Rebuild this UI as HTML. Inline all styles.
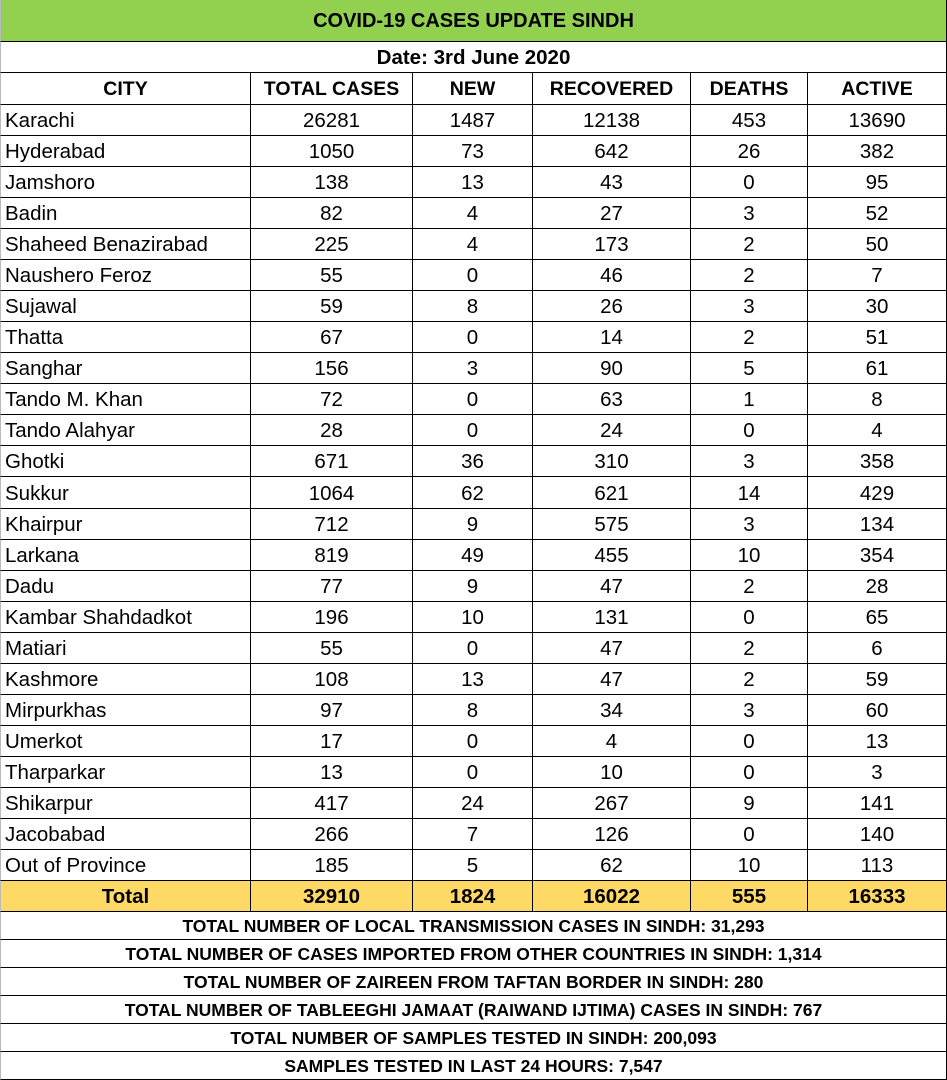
<!DOCTYPE html>
<html><head><meta charset="utf-8"><style>
body{margin:0;width:947px;height:1080px;background:#fff;position:relative;overflow:hidden;font-family:"Liberation Sans",Arial,sans-serif;color:#000}
.c{position:absolute;box-sizing:border-box;border-right:1px solid #000;border-bottom:1px solid #000;display:flex;align-items:center;justify-content:center;white-space:nowrap;font-size:20.5px;padding-top:2px}
.l{justify-content:flex-start;padding-left:4px}
.b{font-weight:bold}
</style></head><body>
<div id="t"></div>
<script>
const headers=["CITY","TOTAL CASES","NEW","RECOVERED","DEATHS","ACTIVE"];
const cities=["Karachi","Hyderabad","Jamshoro","Badin","Shaheed Benazirabad","Naushero Feroz","Sujawal","Thatta","Sanghar","Tando M. Khan","Tando Alahyar","Ghotki","Sukkur","Khairpur","Larkana","Dadu","Kambar Shahdadkot","Matiari","Kashmore","Mirpurkhas","Umerkot","Tharparkar","Shikarpur","Jacobabad","Out of Province"];
const totalCases=[26281,1050,138,82,225,55,59,67,156,72,28,671,1064,712,819,77,196,55,108,97,17,13,417,266,185];
const newCases=[1487,73,13,4,4,0,8,0,3,0,0,36,62,9,49,9,10,0,13,8,0,0,24,7,5];
const recovered=[12138,642,43,27,173,46,26,14,90,63,24,310,621,575,455,47,131,47,47,34,4,10,267,126,62];
const deaths=[453,26,0,3,2,2,3,2,5,1,0,3,14,3,10,2,0,2,2,3,0,0,9,0,10];
const active=[13690,382,95,52,50,7,30,51,61,8,4,358,429,134,354,28,65,6,59,60,13,3,141,140,113];
const totals=["Total",32910,1824,16022,555,16333];
const footer=["TOTAL NUMBER OF LOCAL TRANSMISSION CASES IN SINDH: 31,293","TOTAL NUMBER OF CASES IMPORTED FROM OTHER COUNTRIES IN SINDH: 1,314","TOTAL NUMBER OF ZAIREEN FROM TAFTAN BORDER IN SINDH: 280","TOTAL NUMBER OF TABLEEGHI JAMAAT (RAIWAND IJTIMA) CASES IN SINDH: 767","TOTAL NUMBER OF SAMPLES TESTED IN SINDH: 200,093","SAMPLES TESTED IN LAST 24 HOURS: 7,547"];
const X=[0,251,413,533,691,808,947];
const t=document.getElementById('t');
function cell(x,y,w,h,txt,cls,bg){const d=document.createElement('div');d.className='c '+(cls||'');d.style.left=x+'px';d.style.top=y+'px';d.style.width=w+'px';d.style.height=h+'px';if(bg)d.style.background=bg;d.textContent=txt;t.appendChild(d);return d;}
let d=cell(0,0,947,42,"COVID-19 CASES UPDATE SINDH","b","#92d050");d.style.fontSize="20px";


d=cell(0,42,947,31,"Date: 3rd June 2020","b");d.style.fontSize="20.5px";


headers.forEach((h,i)=>{const e=cell(X[i],73,X[i+1]-X[i],32,h,"b");e.style.fontSize="19.5px";

});
const RH=31.04;
cities.forEach((c,r)=>{const y=Math.round(105+r*RH),h=Math.round(105+(r+1)*RH)-y;
const vals=[c,totalCases[r],newCases[r],recovered[r],deaths[r],active[r]];
vals.forEach((v,i)=>{const e=cell(X[i],y,X[i+1]-X[i],h,v,i==0?'l':'');

});});
totals.forEach((v,i)=>{const e=cell(X[i],881,X[i+1]-X[i],31,v,"b","#ffd966");e.style.fontSize="20.5px";

});
footer.forEach((f,k)=>{const e=cell(0,912+k*28,947,28,f,"b");e.style.fontSize="17.5px";

});
t.querySelectorAll('.c').forEach(e=>{if(parseInt(e.style.left)==0)e.style.borderLeft='1px solid #bbb';});
</script>
</body></html>
